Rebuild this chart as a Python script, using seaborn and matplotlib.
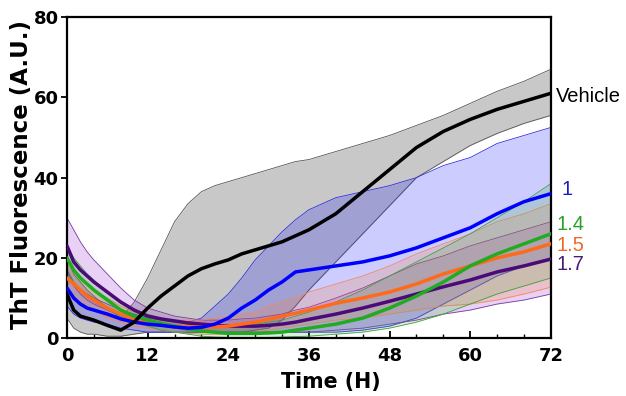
import matplotlib
matplotlib.use("Agg")
import matplotlib.pyplot as plt
import seaborn as sns
import pandas as pd
from matplotlib.ticker import MultipleLocator

# ---- data ----
hours = [0, 1, 2, 3, 4, 6, 8, 10, 12, 14, 16, 18, 20, 22, 24, 26, 28, 30, 32, 34,
         36, 40, 44, 48, 52, 56, 60, 64, 68, 72]

vehicle_mean = [11, 7, 5.5, 5, 4.5, 3.2, 2, 4, 7.5, 10.5, 13, 15.5, 17.3, 18.5, 19.5, 21, 22, 23, 24, 25.5,
                27, 31, 36.5, 42, 47.5, 51.5, 54.5, 57, 59, 61]
vehicle_hi = [20, 16, 14, 12, 10.5, 7.5, 5, 9, 15, 22, 29, 33.5, 36.5, 38, 39, 40, 41, 42, 43, 44,
              44.5, 46.5, 48.5, 50.5, 53, 55.5, 58.5, 61.5, 64, 67]
vehicle_lo = [5, 2.5, 1.5, 1, 1, 0.5, 0.5, 1, 1.5, 1.5, 1.5, 1.5, 1.5, 1.5, 1.5, 1.5, 2, 2.5, 4.5, 8,
              12, 19, 26, 33, 40, 44, 48, 51, 53.5, 55.5]

c1_mean = [12.5, 10, 8.5, 7.5, 7, 6, 4.8, 4, 3.5, 3.2, 2.8, 2.5, 2.7, 3.5, 5, 7.5, 9.5, 12, 14, 16.5,
           17, 18, 19, 20.5, 22.5, 25, 27.5, 31, 34, 36]
c1_hi = [17, 14, 12, 11, 10, 8.5, 7, 6, 5, 4.5, 4, 4, 5, 8, 11, 15, 19.5, 23, 26.5, 29.5,
         32, 35, 36.5, 38, 40, 43, 45, 48.5, 50.5, 52.5]
c1_lo = [8, 6, 5, 4.5, 4, 3.5, 2.5, 2, 1.5, 1.5, 1.5, 1.5, 1.5, 1.5, 1.5, 1.5, 1.5, 1.5, 1.5, 1.5,
         1.5, 1.5, 2, 3, 5, 8.5, 12, 15.5, 18, 20]

c14_mean = [20, 17, 15, 13.5, 12, 9.5, 7, 5.5, 4.5, 3.7, 3, 2.3, 1.8, 1.5, 1.2, 1.2, 1.2, 1.3, 1.5, 2,
            2.5, 3.5, 5, 7.5, 10.5, 14, 18, 21, 23.5, 26]
c14_hi = [23, 20, 18, 16, 14.5, 11.5, 9, 7, 6, 5, 4, 3.5, 3, 3, 3, 3, 3.5, 4, 4.5, 5.5,
          6.5, 9, 12, 15.5, 19, 22.5, 26, 30, 34, 38.5]
c14_lo = [16, 14, 12, 11, 9.5, 7.5, 5, 4, 3, 2, 1.5, 1, 0.5, 0.3, 0.2, 0.2, 0.2, 0.2, 0.3, 0.4,
          0.5, 1, 1.5, 2.5, 4, 6, 8.5, 11, 13, 15]

c15_mean = [15, 13.5, 12, 10.5, 9.5, 7.5, 6, 4.7, 4, 3.5, 3, 2.8, 2.7, 2.8, 3, 3.5, 4, 4.7, 5.5, 6.2,
            7, 8.7, 10, 11.5, 13.5, 16, 18, 20, 21.5, 23.5]
c15_hi = [19, 17, 15, 13.5, 12, 10, 8, 6.5, 5.5, 5, 4.5, 4.5, 4.5, 5, 5.5, 6, 6.5, 8, 9, 10,
          11.5, 13.5, 15.5, 18, 21, 23.5, 26, 29, 31, 33.5]
c15_lo = [11, 10, 9, 8, 7, 5, 4, 3, 2.5, 2, 1.5, 1.2, 1, 1, 1, 1.3, 1.5, 2, 2.5, 3,
          3.5, 4.5, 5, 6, 7, 8, 8.5, 9.5, 11, 12.7]

c17_mean = [23, 19, 17, 15.5, 14, 11.5, 9, 7, 5.5, 4.8, 4.3, 3.8, 3.5, 3.2, 3, 3, 3, 3.2, 3.5, 4,
            4.7, 6, 7.5, 9.2, 11, 12.8, 14.5, 16.5, 18, 19.7]
c17_hi = [30, 27, 24, 21.5, 19.5, 16, 12.5, 9.5, 7.5, 6.5, 5.5, 5, 4.5, 4.5, 4.5, 4.8, 5, 5.5, 6, 7,
          7.7, 10, 12.5, 15.5, 18.5, 20.5, 23, 25, 27, 29]
c17_lo = [17, 13, 11, 9.5, 8.5, 7, 5.5, 4.5, 3.5, 3, 2.5, 2, 1.8, 1.5, 1.5, 1.5, 1.5, 1.5, 1.5, 1.5,
          1.5, 2, 2.5, 3.5, 4.5, 6, 7, 8.5, 9.5, 11]

labels = ["Vehicle", "1", "1.4", "1.5", "1.7"]
colors = {"Vehicle": "#000000", "1": "#0000ff", "1.4": "#22aa22",
          "1.5": "#ff6a1a", "1.7": "#4a0a78"}
label_colors = {"Vehicle": "#000000", "1": "#1a1acc", "1.4": "#2aa02a",
                "1.5": "#ee6a2a", "1.7": "#4a1a78"}
label_y = {"Vehicle": 60.3, "1": 37, "1.4": 28.3, "1.5": 23.2, "1.7": 18.3}

means = {"Vehicle": vehicle_mean, "1": c1_mean, "1.4": c14_mean, "1.5": c15_mean, "1.7": c17_mean}
his = {"Vehicle": vehicle_hi, "1": c1_hi, "1.4": c14_hi, "1.5": c15_hi, "1.7": c17_hi}
los = {"Vehicle": vehicle_lo, "1": c1_lo, "1.4": c14_lo, "1.5": c15_lo, "1.7": c17_lo}

rows = []
for lab in labels:
    for t, m in zip(hours, means[lab]):
        rows.append({"Time": t, "ThT": m, "group": lab})
df = pd.DataFrame(rows)

# ---- figure ----
sns.set_theme(style="ticks")
plt.rcParams["font.family"] = ["DejaVu Sans"]
plt.rcParams["text.color"] = "black"
plt.rcParams["axes.labelcolor"] = "black"
plt.rcParams["xtick.color"] = "black"
plt.rcParams["ytick.color"] = "black"
fig = plt.figure(figsize=(6.26, 3.96), dpi=100)
ax = fig.add_axes([0.107, 0.146, 0.773, 0.811])

# bands
ax.fill_between(hours, vehicle_lo, vehicle_hi, color="#c8c8c8", lw=0, zorder=1)
ax.plot(hours, vehicle_hi, color="#555555", lw=0.6, zorder=1.1)
ax.plot(hours, vehicle_lo, color="#555555", lw=0.6, zorder=1.1)

band_style = {
    "1": ("#0000ff", 0.20, "#3030e0"),
    "1.7": ("#9a30d0", 0.22, "#7a3aa0"),
    "1.5": ("#ff7a30", 0.20, "#f08a60"),
    "1.4": ("#30b030", 0.18, "#40a040"),
}
for z, lab in enumerate(["1", "1.7", "1.5", "1.4"]):
    fc, a, ec = band_style[lab]
    ax.fill_between(hours, los[lab], his[lab], color=fc, alpha=a, lw=0, zorder=2 + z * 0.1)
    ax.plot(hours, his[lab], color=ec, lw=0.6, zorder=2.05 + z * 0.1)
    ax.plot(hours, los[lab], color=ec, lw=0.6, zorder=2.05 + z * 0.1)

# mean lines
order = ["1.7", "1.5", "1.4", "1", "Vehicle"]
for i, lab in enumerate(order):
    sns.lineplot(data=df[df["group"] == lab], x="Time", y="ThT", color=colors[lab],
                 lw=2.5, ax=ax, zorder=5 + i, legend=False)

# labels at right
for lab in labels:
    ax.text(72 + (1.6 if lab == "1" else 0.8), label_y[lab], lab, color=label_colors[lab],
            fontsize=14.5, family=["Liberation Sans", "DejaVu Sans"],
            va="center", ha="left", clip_on=False)

ax.set_xlim(0, 72)
ax.set_ylim(0, 80)
ax.xaxis.set_major_locator(MultipleLocator(12))
ax.xaxis.set_minor_locator(MultipleLocator(4))
ax.yaxis.set_major_locator(MultipleLocator(20))
ax.tick_params(axis="x", which="major", direction="in", length=5, width=1.3,
               labelsize=13, pad=6, colors="black")
ax.tick_params(axis="x", which="minor", direction="in", length=3, width=1.0, colors="black")
ax.tick_params(axis="y", which="major", direction="out", length=4, width=1.3,
               labelsize=13, pad=2, colors="black")
for lab in ax.get_xticklabels() + ax.get_yticklabels():
    lab.set_fontweight("bold")
    lab.set_color("black")

for sp in ax.spines.values():
    sp.set_visible(True)
    sp.set_linewidth(1.6)
    sp.set_color("black")

ax.set_xlabel("Time (H)", fontsize=14.8, fontweight="bold", color="black")
ax.set_ylabel("ThT Fluorescence (A.U.)", fontsize=16.5, fontweight="bold", color="black")
ax.xaxis.set_label_coords(0.545, -0.105)
ax.yaxis.set_label_coords(-0.07, 0.51)

fig.savefig("out.png", dpi=100)
